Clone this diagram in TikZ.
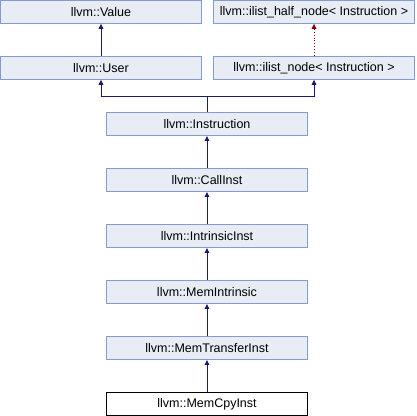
\documentclass[tikz,border=0pt]{standalone}
\usepackage{fontspec}
\setmainfont{Liberation Sans}
\usetikzlibrary{positioning, arrows.meta}
\definecolor{boxfill}{RGB}{232,236,245}
\definecolor{boxline}{RGB}{132,156,204}
\definecolor{inhline}{RGB}{25,25,112}
\definecolor{tmplline}{RGB}{139,0,0}

\begin{document}
\begin{tikzpicture}[x=1pt,y=-1pt,cls/.style={draw=boxline,line width=0.9pt,fill=boxfill,minimum width=201pt,minimum height=23pt,inner sep=0pt,font=\fontsize{12.5}{14}\selectfont},leaf/.style={cls,draw=black,fill=white},inh/.style={draw=inhline,line width=0.9pt,-{Triangle[length=5pt,width=4.5pt]}},tmpl/.style={draw=tmplline,line width=0.9pt,dotted,-{Triangle[length=5pt,width=4.5pt]}}]
\useasboundingbox (0,0) rectangle (416,416);
\node[cls] (value) at (101,11.8) {llvm::Value};
\node[cls] (halfnode) at (314,11.8) {llvm::ilist\_half\_node< Instruction >};
\node[cls] (user) at (101,67.8) {llvm::User};
\node[cls] (ilistnode) at (314,67.8) {llvm::ilist\_node< Instruction >};
\node[cls] (instr) at (207,124) {llvm::Instruction};
\node[cls] (call) at (207,180) {llvm::CallInst};
\node[cls] (intrinsic) at (207,236) {llvm::IntrinsicInst};
\node[cls] (memintr) at (207,292) {llvm::MemIntrinsic};
\node[cls] (transfer) at (207,348) {llvm::MemTransferInst};
\node[leaf] (memcpy) at (207,404) {llvm::MemCpyInst};
\coordinate (junc) at (207,96.7);
\draw[inh] (user.north) -- (value.south);
\draw[tmpl] (ilistnode.north) -- (halfnode.south);
\draw[inh] (instr.north) -- (junc) -| (user.south);
\draw[inh] (instr.north) -- (junc) -| (ilistnode.south);
\draw[inh] (call.north) -- (instr.south);
\draw[inh] (intrinsic.north) -- (call.south);
\draw[inh] (memintr.north) -- (intrinsic.south);
\draw[inh] (transfer.north) -- (memintr.south);
\draw[inh] (memcpy.north) -- (transfer.south);
\end{tikzpicture}
\end{document}
